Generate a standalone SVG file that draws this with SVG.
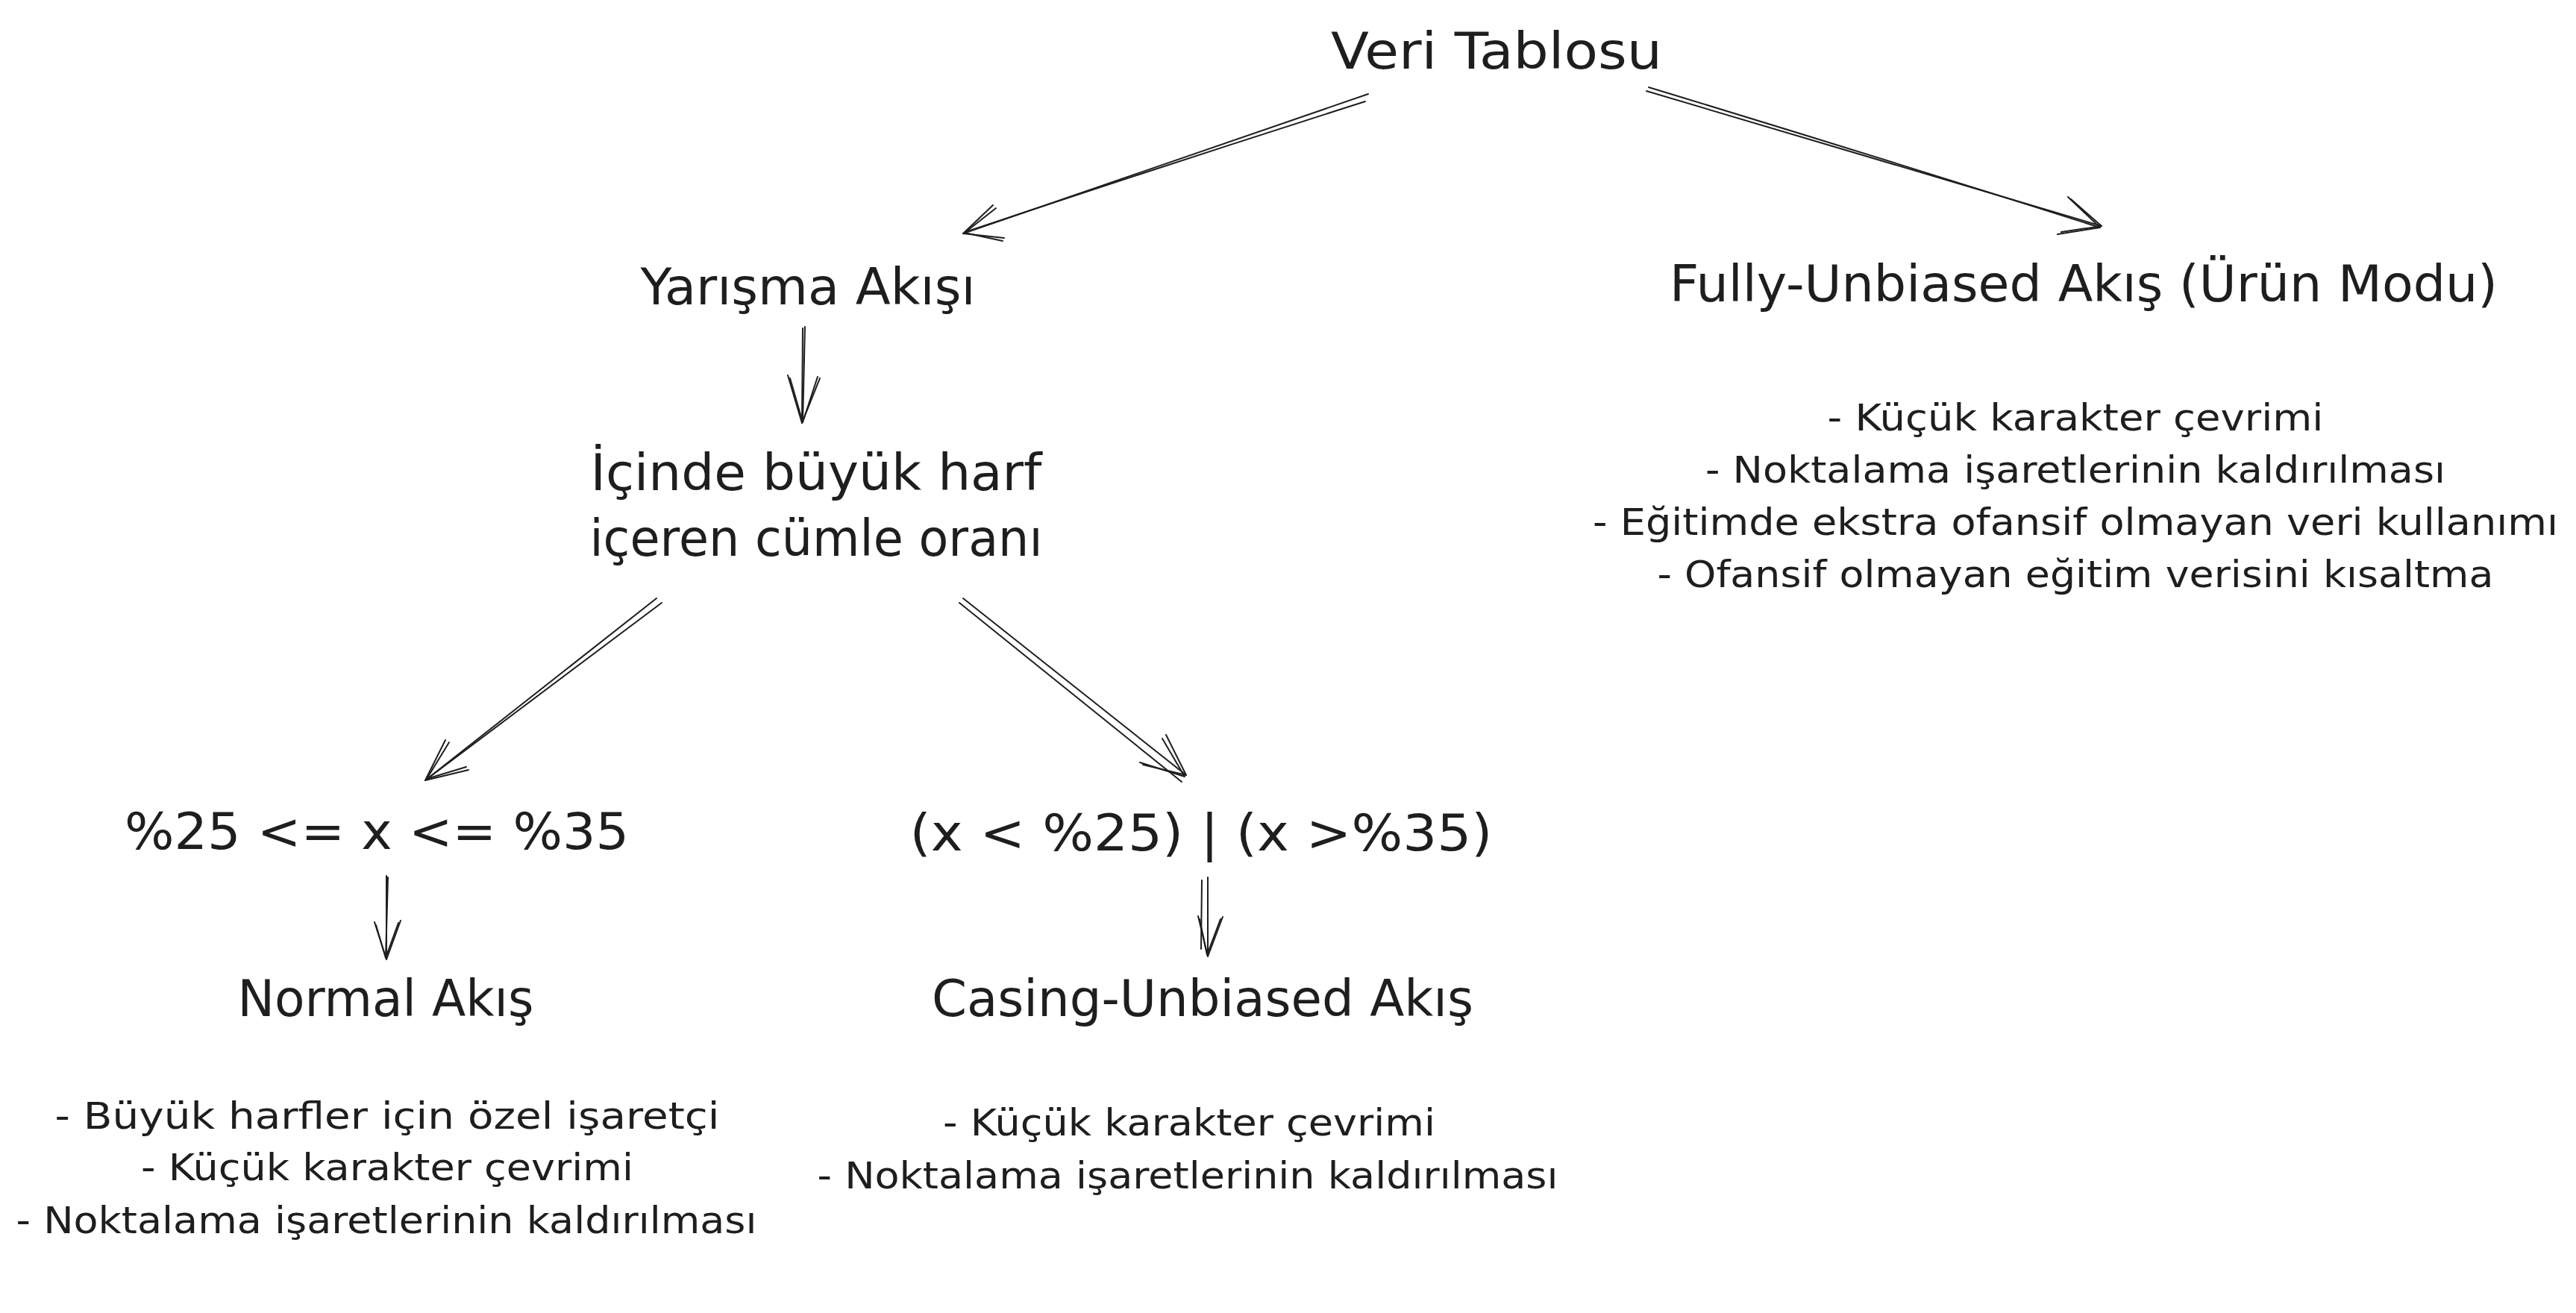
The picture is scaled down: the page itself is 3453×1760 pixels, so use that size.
<svg xmlns="http://www.w3.org/2000/svg" width="3453" height="1760" viewBox="0 0 3453 1760">
<style>
.bg{fill:#ffffff}
.t{font-family:"DejaVu Sans","Noto Sans",sans-serif;fill:#1e1e1e;text-anchor:middle}
.h{font-size:68px}
.l{font-size:50px}
.c path{fill:none;stroke:#1e1e1e;stroke-width:2;stroke-linecap:round;stroke-linejoin:round}
</style>
<rect class="bg" x="0" y="0" width="3453" height="1760"/>
<g id="connectors" class="c">
  <g id="e-veri-yarisma">
    <path d="M1834,126 L1291,313"/><path d="M1830,136 Q1560,222 1294,311"/>
    <path d="M1331,275 L1291,313 L1346,319"/><path d="M1335,279 L1293,312 L1344,323"/>
  </g>
  <g id="e-veri-fully">
    <path d="M2207,122 L2817,303"/><path d="M2210,117 Q2510,208 2815,305"/>
    <path d="M2776,267 L2817,303 L2763,311"/><path d="M2772,264 L2815,305 L2758,314"/>
  </g>
  <g id="e-yarisma-oran">
    <path d="M1076,440 L1075,567"/><path d="M1079,438 L1076,566"/>
    <path d="M1056,503 L1075,567 L1099,507"/><path d="M1059,507 L1076,566 L1096,505"/>
  </g>
  <g id="e-oran-normal">
    <path d="M880,802 L570,1046"/><path d="M887,808 L574,1043"/>
    <path d="M597,992 L570,1046 L628,1032"/><path d="M602,995 L572,1044 L625,1028"/>
  </g>
  <g id="e-oran-casing">
    <path d="M1291,802 L1590,1039"/><path d="M1286,808 L1584,1048"/>
    <path d="M1563,985 L1590,1039 L1532,1025"/><path d="M1558,990 L1588,1041 L1528,1022"/>
  </g>
  <g id="e-cond1-normal">
    <path d="M518,1174 L518,1286"/><path d="M520,1176 L517,1284"/>
    <path d="M502,1236 L518,1286 L537,1234"/><path d="M504,1240 L517,1284 L534,1237"/>
  </g>
  <g id="e-cond2-casing">
    <path d="M1619,1176 L1619,1282"/><path d="M1611,1180 L1610,1272"/>
    <path d="M1606,1228 L1619,1282 L1639,1229"/><path d="M1608,1232 L1618,1280 L1636,1232"/>
  </g>
</g>
<g id="n-veri"><text class="t h" x="2006" y="92" textLength="444" lengthAdjust="spacingAndGlyphs">Veri Tablosu</text></g>
<g id="n-yarisma"><text class="t h" x="1083" y="408" textLength="449" lengthAdjust="spacingAndGlyphs">Yarışma Akışı</text></g>
<g id="n-fully"><text class="t h" x="2793" y="404" textLength="1110" lengthAdjust="spacingAndGlyphs">Fully-Unbiased Akış (Ürün Modu)</text></g>
<g id="n-fully-list">
  <text class="t l" x="2782" y="577" textLength="665" lengthAdjust="spacingAndGlyphs">- Küçük karakter çevrimi</text>
  <text class="t l" x="2782" y="647" textLength="992" lengthAdjust="spacingAndGlyphs">- Noktalama işaretlerinin kaldırılması</text>
  <text class="t l" x="2782" y="717" textLength="1294" lengthAdjust="spacingAndGlyphs">- Eğitimde ekstra ofansif olmayan veri kullanımı</text>
  <text class="t l" x="2782" y="787" textLength="1121" lengthAdjust="spacingAndGlyphs">- Ofansif olmayan eğitim verisini kısaltma</text>
</g>
<g id="n-oran">
  <text class="t h" x="1094" y="657" textLength="605" lengthAdjust="spacingAndGlyphs">İçinde büyük harf</text>
  <text class="t h" x="1094" y="745" textLength="607" lengthAdjust="spacingAndGlyphs">içeren cümle oranı</text>
</g>
<g id="n-cond1"><text class="t h" x="505" y="1138" textLength="676" lengthAdjust="spacingAndGlyphs">%25 &lt;= x &lt;= %35</text></g>
<g id="n-cond2"><text class="t h" x="1610" y="1140" textLength="781" lengthAdjust="spacingAndGlyphs">(x &lt; %25) | (x &gt;%35)</text></g>
<g id="n-normal"><text class="t h" x="517" y="1362" textLength="397" lengthAdjust="spacingAndGlyphs">Normal Akış</text></g>
<g id="n-normal-list">
  <text class="t l" x="519" y="1513" textLength="891" lengthAdjust="spacingAndGlyphs">- Büyük harfler için özel işaretçi</text>
  <text class="t l" x="519" y="1582" textLength="660" lengthAdjust="spacingAndGlyphs">- Küçük karakter çevrimi</text>
  <text class="t l" x="518" y="1653" textLength="993" lengthAdjust="spacingAndGlyphs">- Noktalama işaretlerinin kaldırılması</text>
</g>
<g id="n-casing"><text class="t h" x="1612" y="1362" textLength="726" lengthAdjust="spacingAndGlyphs">Casing-Unbiased Akış</text></g>
<g id="n-casing-list">
  <text class="t l" x="1594" y="1522" textLength="660" lengthAdjust="spacingAndGlyphs">- Küçük karakter çevrimi</text>
  <text class="t l" x="1592" y="1593" textLength="993" lengthAdjust="spacingAndGlyphs">- Noktalama işaretlerinin kaldırılması</text>
</g>
</svg>
